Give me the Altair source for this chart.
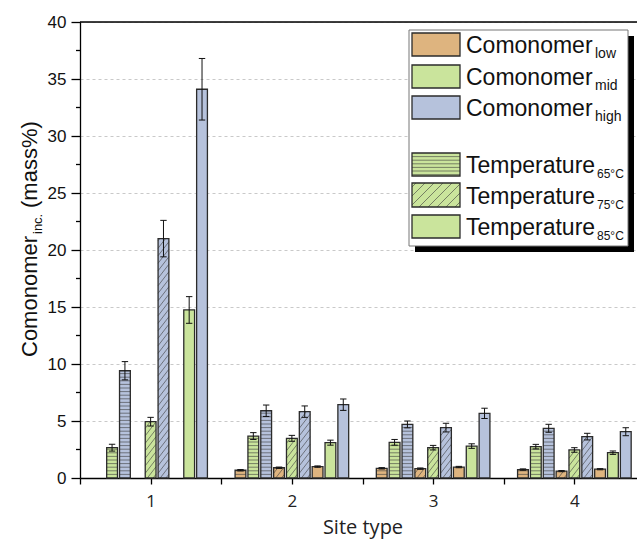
import altair as alt
import pandas as pd

# ---------------- data ----------------
sites = [1, 2, 3, 4]
temperatures = ["65", "75", "85"]
levels = ["low", "mid", "high"]

low_65 = [None, 0.68, 0.85, 0.74]
low_75 = [None, 0.90, 0.82, 0.60]
low_85 = [None, 1.00, 0.96, 0.77]
mid_65 = [2.66, 3.68, 3.13, 2.75]
mid_75 = [4.94, 3.48, 2.66, 2.46]
mid_85 = [14.74, 3.10, 2.80, 2.22]
high_65 = [9.41, 5.90, 4.70, 4.36]
high_75 = [21.0, 5.82, 4.42, 3.63]
high_85 = [34.1, 6.43, 5.67, 4.06]

err_low_65 = [None, 0.06, 0.06, 0.06]
err_low_75 = [None, 0.06, 0.06, 0.05]
err_low_85 = [None, 0.06, 0.06, 0.05]
err_mid_65 = [0.30, 0.30, 0.25, 0.20]
err_mid_75 = [0.38, 0.26, 0.20, 0.20]
err_mid_85 = [1.17, 0.22, 0.20, 0.15]
err_high_65 = [0.80, 0.50, 0.30, 0.35]
err_high_75 = [1.60, 0.50, 0.38, 0.29]
err_high_85 = [2.70, 0.50, 0.45, 0.35]

y_ticks = [0, 5, 10, 15, 20, 25, 30, 35, 40]
y_minor = [2.5, 7.5, 12.5, 17.5, 22.5, 27.5, 32.5, 37.5]
x_ticks = [0.5, 1, 1.5, 2, 2.5, 3, 3.5, 4, 4.5]

legend_main = ["Comonomer", "Comonomer", "Comonomer",
               "Temperature", "Temperature", "Temperature"]
legend_sub = ["low", "mid", "high", "65°C", "75°C", "85°C"]

colors = ["#DEB47F", "#CAE49C", "#B6C2DC"]

series = {
    ("65", "low"): (low_65, err_low_65), ("65", "mid"): (mid_65, err_mid_65), ("65", "high"): (high_65, err_high_65),
    ("75", "low"): (low_75, err_low_75), ("75", "mid"): (mid_75, err_mid_75), ("75", "high"): (high_75, err_high_75),
    ("85", "low"): (low_85, err_low_85), ("85", "mid"): (mid_85, err_mid_85), ("85", "high"): (high_85, err_high_85),
}
rows = []
for ti, t in enumerate(temperatures):
    for li, lv in enumerate(levels):
        vals, errs = series[(t, lv)]
        for si, s in enumerate(sites):
            if vals[si] is None:
                continue
            rows.append({"site": s, "temp": t, "level": lv, "slot": ti * 3 + li,
                         "value": vals[si], "err": errs[si]})
df = pd.DataFrame(rows)

# ---------------- layout ----------------
W, H = 557, 456
XR = 565                       # x range in px (plot continues past the window edge)
STEP = 12.85 / (XR / 4)        # slot step in data units
HALF = 5.4 / (XR / 4)          # half bar width in data units
BW = 2 * HALF
CAP = 3.2 / (XR / 4)
PXU = H / 40.0                 # px per y unit

xs = alt.Scale(domain=[0.5, 4.5], range=[0, XR], nice=False, zero=False)
ys = alt.Scale(domain=[0, 40], nice=False)

XT = "Site type"


def X(field):
    return alt.X(field, scale=xs, title=XT)


def Y(field):
    return alt.Y(field, scale=ys, title="")


base = alt.Chart(df).transform_calculate(
    pos=f"datum.site + (datum.slot - 4) * {STEP}",
    x0=f"datum.site + (datum.slot - 4) * {STEP} - {HALF}",
    x1=f"datum.site + (datum.slot - 4) * {STEP} + {HALF}",
    zero="0",
)

bars = base.mark_rect(strokeWidth=0).encode(
    x=alt.X("x0:Q", scale=xs, title=XT,
            axis=alt.Axis(values=x_ticks,
                          labelExpr="datum.value % 1 === 0 ? format(datum.value, 'd') : ''",
                          grid=False, tickSize=6, tickWidth=1.3, tickColor="black",
                          domainColor="black", domainWidth=1.3,
                          labelFont="Open Sans", labelFontSize=17, labelColor="#222",
                          labelPadding=9, titleFont="Open Sans", titleFontSize=20,
                          titleFontWeight="normal", titleColor="#222", titlePadding=8)),
    x2="x1:Q",
    y=alt.Y("value:Q", scale=ys, title="",
            axis=alt.Axis(values=y_ticks, grid=True, gridDash=[3, 3], gridColor="#c9c9c9",
                          gridWidth=1, tickSize=9, tickWidth=1.3, tickColor="black",
                          domainColor="black", domainWidth=1.3,
                          labelFont="Liberation Sans", labelFontSize=17, labelColor="#111",
                          labelPadding=5)),
    y2="zero:Q",
    color=alt.Color("level:N", scale=alt.Scale(domain=levels, range=colors), legend=None),
)

hatch_col = "#3a3a3a"

# horizontal stripes for 65 °C
step_h = 3.6 / PXU
hatch65 = base.transform_filter("datum.temp == '65'").transform_calculate(
    s=f"sequence({step_h}, datum.value, {step_h})"
).transform_flatten(["s"]).mark_rule(color=hatch_col, strokeWidth=0.8, opacity=0.75).encode(
    x=X("x0:Q"), x2="x1:Q", y=Y("s:Q"),
)

# diagonal stripes for 75 °C
RU = 14.0 / PXU
DU = 7.5 / PXU
hatch75 = base.transform_filter("datum.temp == '75'").transform_calculate(
    c=f"sequence({-RU + DU * 0.5}, datum.value, {DU})"
).transform_flatten(["c"]).transform_calculate(
    t0=f"max(0, -datum.c / {RU})",
    t1=f"min(1, (datum.value - datum.c) / {RU})",
).transform_filter("datum.t1 > datum.t0 + 0.03").transform_calculate(
    xa=f"datum.x0 + datum.t0 * {BW}",
    xb=f"datum.x0 + datum.t1 * {BW}",
    ya=f"datum.c + datum.t0 * {RU}",
    yb=f"datum.c + datum.t1 * {RU}",
).mark_rule(color=hatch_col, strokeWidth=0.8, opacity=0.75).encode(
    x=X("xa:Q"), x2="xb:Q", y=Y("ya:Q"), y2="yb:Q",
)

outline = base.mark_rect(fillOpacity=0, stroke="#2b2b2b", strokeWidth=1.3).encode(
    x=X("x0:Q"), x2="x1:Q", y=Y("value:Q"), y2="zero:Q",
)

errbase = base.transform_calculate(
    lo="datum.value - datum.err", hi="datum.value + datum.err",
    ca=f"datum.site + (datum.slot - 4) * {STEP} - {CAP}",
    cb=f"datum.site + (datum.slot - 4) * {STEP} + {CAP}",
)
err_line = errbase.mark_rule(color="#111", strokeWidth=1).encode(
    x=X("pos:Q"), y=Y("lo:Q"), y2="hi:Q",
)
err_top = errbase.mark_rule(color="#111", strokeWidth=1).encode(
    x=X("ca:Q"), x2="cb:Q", y=Y("hi:Q"),
)
err_bot = errbase.mark_rule(color="#111", strokeWidth=1).encode(
    x=X("ca:Q"), x2="cb:Q", y=Y("lo:Q"),
)

minor_y = alt.Chart(pd.DataFrame({"m": y_minor})).mark_rule(color="black", strokeWidth=1.3).encode(
    y=Y("m:Q"), x=alt.value(-4), x2=alt.value(0),
)

one = pd.DataFrame({"a": [0]})

top_frame = alt.Chart(one).mark_rule(color="black", strokeWidth=1.3).encode(
    y=alt.value(0), x=alt.value(0), x2=alt.value(XR),
)


def rect(x0, x1, y0, y1, **kw):
    return alt.Chart(one).mark_rect(**kw).encode(
        x=alt.value(x0), x2=alt.value(x1), y=alt.value(y0), y2=alt.value(y1))


def text(s, x, y, size, angle=0, font="Liberation Sans", baseline="alphabetic"):
    kw = dict(text=s, fontSize=size, font=font, color="#111", align="left", baseline=baseline)
    if angle:
        kw["angle"] = angle
    return alt.Chart(one).mark_text(**kw).encode(x=alt.value(x), y=alt.value(y))


# legend
LX0, LX1 = 332, 380
rows_y = [(11, 34), (43, 66), (74, 97), (131, 154), (161, 185), (193, 216)]
legend_layers = [
    rect(335, 554, 14, 230, fill="black", strokeWidth=0),
    rect(329, 548, 8, 224, fill="white", stroke="#777", strokeWidth=1),
]
sw_colors = colors + [colors[1]] * 3
for i, (y0, y1) in enumerate(rows_y):
    legend_layers.append(rect(LX0, LX1, y0, y1, fill=sw_colors[i], strokeWidth=0))
    if i == 3:
        legend_layers.append(
            alt.Chart(one).transform_calculate(s=f"sequence({y0 + 3.6}, {y1}, 3.6)")
            .transform_flatten(["s"])
            .mark_rule(color=hatch_col, strokeWidth=0.8, opacity=0.75)
            .encode(y=alt.Y("s:Q", scale=None), x=alt.value(LX0), x2=alt.value(LX1)))
    if i == 4:
        hgt = y1 - y0
        wdt = LX1 - LX0
        legend_layers.append(
            alt.Chart(one).transform_calculate(c=f"sequence({-hgt + 4}, {wdt}, 9)")
            .transform_flatten(["c"])
            .transform_calculate(
                xa=f"{LX0} + max(0, datum.c)",
                ya=f"{y1} - max(0, -datum.c)",
                xb=f"{LX0} + min({wdt}, datum.c + {hgt})",
                yb=f"{y1} - min({hgt}, {wdt} - datum.c)")
            .mark_rule(color=hatch_col, strokeWidth=0.8, opacity=0.75)
            .encode(x=alt.X("xa:Q", scale=None), x2="xb:Q",
                    y=alt.Y("ya:Q", scale=None), y2="yb:Q"))
    legend_layers.append(rect(LX0, LX1, y0, y1, fillOpacity=0, stroke="#2b2b2b", strokeWidth=1.3))
    base_y = y1 - 3
    legend_layers.append(text(legend_main[i], 386, base_y, 23))
    if i < 3:
        legend_layers.append(text(legend_sub[i], 515, base_y + 5, 14))
    else:
        legend_layers.append(text(legend_sub[i], 517, base_y + 5, 12))

# y-axis title with subscript
ytitle = [
    text("Comonomer", -43, 335, 22, angle=270),
    text("inc.", -38, 212, 13, angle=270),
    text("(mass%)", -43, 186, 22, angle=270),
]

chart = alt.layer(
    bars, hatch65, hatch75, outline, err_line, err_top, err_bot, minor_y, top_frame,
    *legend_layers, *ytitle,
).properties(
    width=W, height=H,
    autosize=alt.AutoSizeParams(type="none"),
    padding={"left": 80, "top": 22, "right": 0, "bottom": 65},
).configure_view(stroke=None).configure(background="white")

chart.save("out.html", embed_options={"renderer": "svg", "actions": False})
